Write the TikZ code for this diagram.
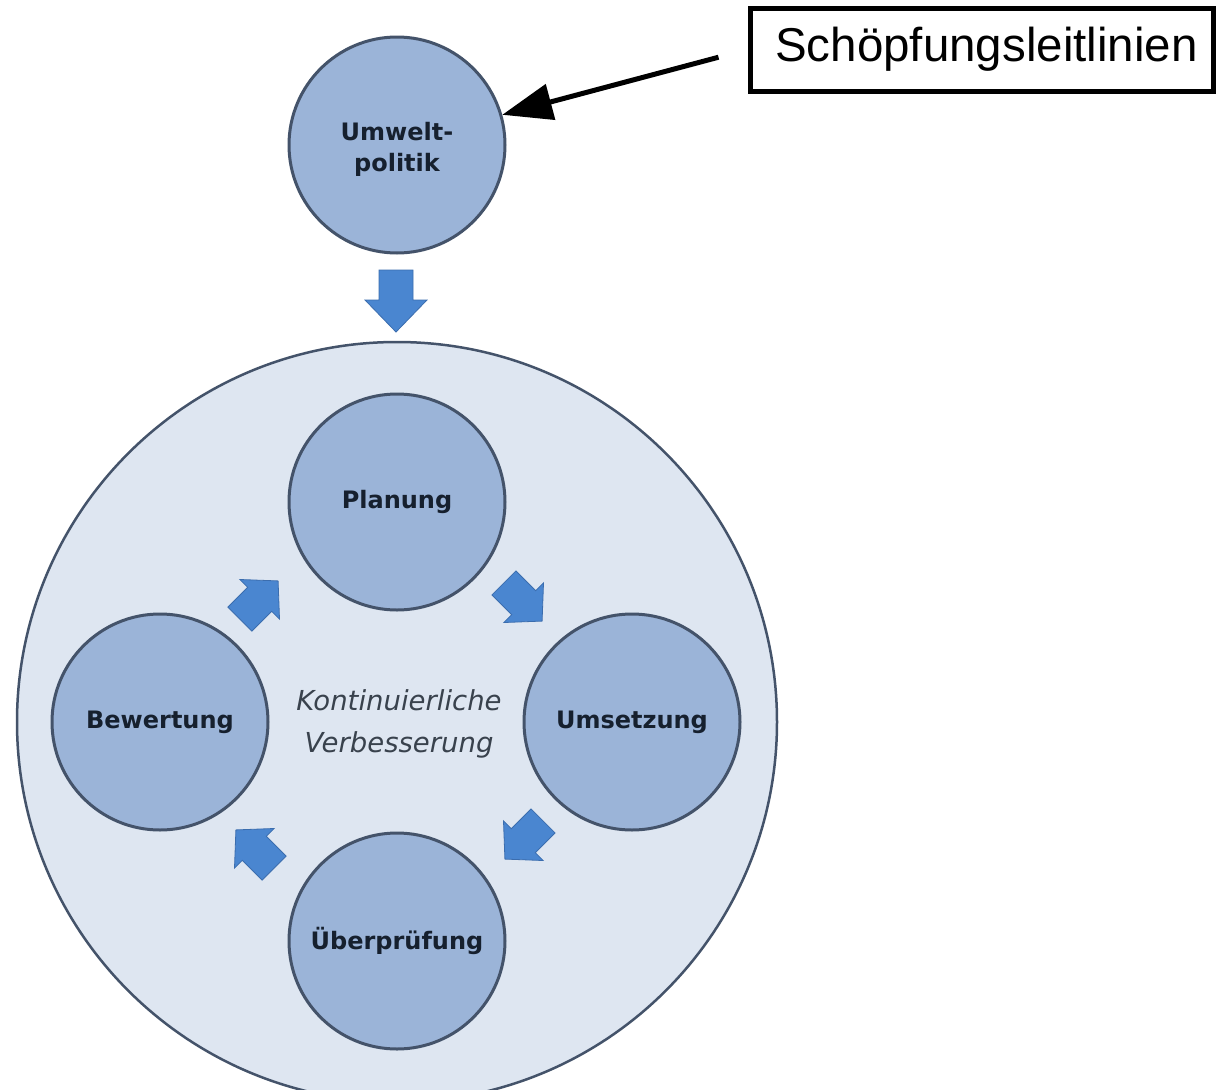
\documentclass[tikz,border=0pt]{standalone}
\usepackage{fontspec}
\setmainfont{Liberation Sans}
\newfontfamily\lblfont{DejaVu Sans}
\usetikzlibrary{arrows.meta}
\definecolor{circfill}{HTML}{9BB4D8}
\definecolor{circline}{HTML}{44536A}
\definecolor{bigfill}{HTML}{DEE6F1}
\definecolor{arrfill}{HTML}{4A86D0}
\definecolor{arrline}{HTML}{3B6DAE}
\definecolor{txt}{HTML}{16202E}
\tikzset{
  stage/.style={circle, draw=circline, line width=3pt, fill=circfill,
    minimum size=216pt, inner sep=0pt, text=txt, align=center,
    font=\lblfont\bfseries\fontsize{24}{31}\selectfont},
  pics/blockarrow/.style n args={4}{code={
    \path[fill=arrfill, draw=arrline, line width=0.8pt]
      (-#1/2,-#2/2) -- (#1/2-#4,-#2/2) -- (#1/2-#4,-#3/2) -- (#1/2,0)
      -- (#1/2-#4,#3/2) -- (#1/2-#4,#2/2) -- (-#1/2,#2/2) -- cycle;}},
  labelbox/.style={draw=black, line width=5pt, fill=white, minimum width=463pt,
    minimum height=83pt, inner sep=0pt, font=\fontsize{47.5}{50}\selectfont}
}
\begin{document}
\begin{tikzpicture}[x=1pt,y=-1pt]
\useasboundingbox (0,0) rectangle (1216,1090);
\clip (0,0) rectangle (1216,1090);
\fill[white] (0,0) rectangle (1216,1090);
% big circle
\node[circle, draw=circline, line width=2.5pt, fill=bigfill, minimum size=760pt, inner sep=0pt] (big) at (397,722) {};
% stages
\node[stage] (umwelt) at (397,145) {\raisebox{-5pt}[\height][\depth]{\begin{tabular}{@{}c@{}}Umwelt-\\politik\end{tabular}}};
\node[stage] (plan) at (397,502) {Planung};
\node[stage] (umsetz) at (632,722) {Umsetzung};
\node[stage] (bewert) at (160,722) {Bewertung};
\node[stage] (ueber) at (397,941) {Überprüfung};
\node[align=center, text=txt!85, font=\lblfont\itshape\fontsize{27.5}{42}\selectfont] (kv) at (399,724) {Kontinuierliche\\Verbesserung};
% block arrows
\pic[rotate=-90] at (396,301) {blockarrow={62}{34}{62}{32}};
\pic[rotate=45] at (259,600) {blockarrow={54}{34}{56}{26}};
\pic[rotate=-45] at (523,602) {blockarrow={54}{34}{56}{26}};
\pic[rotate=-135] at (524,840) {blockarrow={54}{34}{56}{26}};
\pic[rotate=135] at (255,849) {blockarrow={54}{34}{56}{26}};
% label box
\node[labelbox] (box) at (981.5,49.5) {\hspace*{10pt}Schöpfungsleitlinien};
\draw[line width=5pt, -{Triangle[length=50pt,width=36pt]}, shorten <=30pt] (box.west) -- (umwelt.16);
\end{tikzpicture}
\end{document}
